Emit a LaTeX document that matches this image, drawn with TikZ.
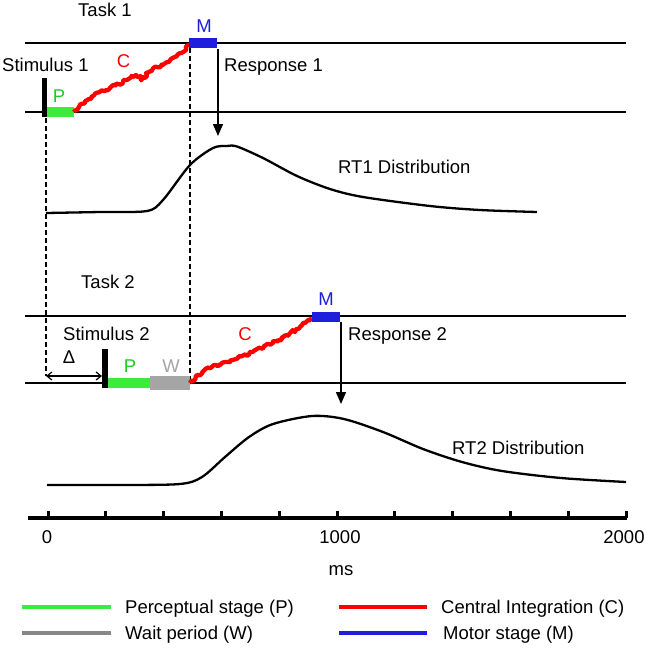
\documentclass[tikz,border=0pt]{standalone}
\usepackage{fontspec}
\setmainfont{Liberation Sans}
\usetikzlibrary{arrows.meta,decorations.pathmorphing}
\definecolor{pgreen}{RGB}{60,235,60}
\definecolor{cred}{RGB}{255,0,0}
\definecolor{mblue}{RGB}{30,30,220}
\definecolor{wgray}{RGB}{165,165,165}
\definecolor{lgray}{RGB}{135,135,135}
\definecolor{tgreen}{RGB}{30,205,30}
\begin{document}
\begin{tikzpicture}[x=1pt,y=-1pt,
  every node/.style={inner sep=0pt, font=\fontsize{18.5}{22}\selectfont},
  lbl/.style={anchor=base west},
  clbl/.style={anchor=base},
  taskline/.style={line width=2.5pt},
  stimbar/.style={line width=5.5pt},
  stagebar/.style={line width=10pt},
  waitbar/.style={line width=14pt, wgray},
  noisy/.style={cred, line width=4.3pt, line join=round, decorate,
     decoration={random steps, segment length=2pt, amplitude=1.6pt}},
  guide/.style={dash pattern=on 5pt off 3pt, line width=1.2pt},
  resp/.style={line width=1.5pt, -{Triangle[length=12pt,width=10pt]}},
  dist/.style={line width=2.3pt, line join=round},
  legline/.style={line width=4.5pt},
  tick/.style={line width=3pt}]
\useasboundingbox (0,0) rectangle (646,649);
\fill[white] (0,0) rectangle (646,649);
\pgfmathsetseed{7}

% ---------------- Task 1 ----------------
\coordinate (t1a) at (25,43);  \coordinate (t1b) at (626,43);
\coordinate (t1c) at (25,112); \coordinate (t1d) at (626,112);
\draw[taskline] (t1a) -- (t1b);
\draw[taskline] (t1c) -- (t1d);

\coordinate (s1top) at (44.5,78); \coordinate (s1bot) at (44.5,117);
\draw[stimbar] (s1top) -- (s1bot);

\coordinate (p1a) at (47,112); \coordinate (p1b) at (74,112);
\draw[stagebar, pgreen] (p1a) -- (p1b);

\draw[noisy] (74,112) -- (79,107) -- (93,96) -- (110,88) -- (127,80) -- (136,75) -- (142,79) -- (149,72) -- (167,62) -- (180,53) -- (190,45);

\coordinate (m1a) at (189,43); \coordinate (m1b) at (217,43);
\draw[stagebar, mblue] (m1a) -- (m1b);

\coordinate (r1s) at (218,49); \coordinate (r1e) at (218,136);
\draw[resp] (r1s) -- (r1e);

\node[lbl] (task1) at (78,16) {Task 1};
\node[lbl] (stim1) at (2,71) {Stimulus 1};
\node[clbl, text=tgreen] (p1) at (59,102) {P};
\node[clbl, text=cred] (c1) at (123.5,67) {C};
\node[clbl, text=mblue] (m1) at (204,32) {M};
\node[lbl] (resp1) at (224,71) {Response 1};

% RT1 distribution
\draw[dist] plot[smooth, tension=0.5] coordinates {(46,213) (100,212) (147,211) (163,200) (190,165) (213,148) (227,146) (237,146.5) (263,158) (297,176) (330,189) (363,197) (430,206) (480,210) (537,212)};
\node[lbl] (rt1) at (338,173) {RT1 Distribution};

% guides
\coordinate (g1a) at (46,118); \coordinate (g1b) at (46,376);
\coordinate (g2a) at (190,48); \coordinate (g2b) at (190,384);
\draw[guide] (g1a) -- (g1b);
\draw[guide] (g2a) -- (g2b);

% ---------------- Task 2 ----------------
\coordinate (t2a) at (25,316);  \coordinate (t2b) at (626,316);
\coordinate (t2c) at (25,383); \coordinate (t2d) at (626,383);
\draw[taskline] (t2a) -- (t2b);
\draw[taskline] (t2c) -- (t2d);

\coordinate (s2top) at (105,349); \coordinate (s2bot) at (105,388);
\draw[stimbar] (s2top) -- (s2bot);

\coordinate (p2a) at (108,383); \coordinate (p2b) at (150,383);
\draw[stagebar, pgreen] (p2a) -- (p2b);
\coordinate (w2a) at (150,383); \coordinate (w2b) at (190,383);
\draw[waitbar] (w2a) -- (w2b);

\draw[noisy] (190,383) -- (198,375) -- (207,368) -- (220,365) -- (233,360) -- (253,352) -- (273,343) -- (287,335) -- (300,327) -- (312,318);

\coordinate (m2a) at (312,316.5); \coordinate (m2b) at (340,316.5);
\draw[stagebar, mblue] (m2a) -- (m2b);

\coordinate (r2s) at (341,322); \coordinate (r2e) at (341,404);
\draw[resp] (r2s) -- (r2e);

\coordinate (d1) at (46,376); \coordinate (d2) at (102,376);
\draw[line width=1.2pt, {Straight Barb[length=5pt,width=8pt]}-{Straight Barb[length=5pt,width=8pt]}] (d1) -- (d2);

\node[lbl] (task2) at (81,288) {Task 2};
\node[lbl] (stim2) at (63,340) {Stimulus 2};
\node[clbl] (delta) at (69,363) {Δ};
\node[clbl, text=tgreen] (p2) at (130,372) {P};
\node[clbl, text=wgray] (w2) at (171,372) {W};
\node[clbl, text=cred] (c2) at (245,340) {C};
\node[clbl, text=mblue] (m2) at (326,305) {M};
\node[lbl] (resp2) at (348,340) {Response 2};

% RT2 distribution
\draw[dist] plot[smooth, tension=0.5] coordinates {(47,485) (120,485) (180,484) (202,477) (225,457) (249,437) (273,424) (312,416) (344,419) (383,432) (423,449) (462,462) (502,471) (561,478) (626,482)};
\node[lbl] (rt2) at (452,454) {RT2 Distribution};

% ---------------- Axis ----------------
\coordinate (ax1) at (28,518); \coordinate (ax2) at (627,518);
\draw[line width=4pt] (ax1) -- (ax2);
\foreach \k in {0,...,10} {
  \draw[tick] ({48+57.8*\k},518) -- ({48+57.8*\k},511);
}
\node[clbl] (l0) at (47,543) {0};
\node[clbl] (l1000) at (340,543) {1000};
\node[clbl] (l2000) at (624,543) {2000};
\node[clbl] (ms) at (341,575) {ms};

% ---------------- Legend ----------------
\coordinate (lg1a) at (22,607); \coordinate (lg1b) at (111,607);
\draw[legline, pgreen] (lg1a) -- (lg1b);
\node[lbl] (leg1) at (125,613) {Perceptual stage (P)};
\coordinate (lg2a) at (339,607); \coordinate (lg2b) at (427,607);
\draw[legline, cred] (lg2a) -- (lg2b);
\node[lbl] (leg2) at (441,613) {Central Integration (C)};
\coordinate (lg3a) at (22,633); \coordinate (lg3b) at (111,633);
\draw[legline, lgray] (lg3a) -- (lg3b);
\node[lbl] (leg3) at (125,639) {Wait period (W)};
\coordinate (lg4a) at (339,633); \coordinate (lg4b) at (427,633);
\draw[legline, mblue] (lg4a) -- (lg4b);
\node[lbl] (leg4) at (443,639) {Motor stage (M)};
\end{tikzpicture}
\end{document}
